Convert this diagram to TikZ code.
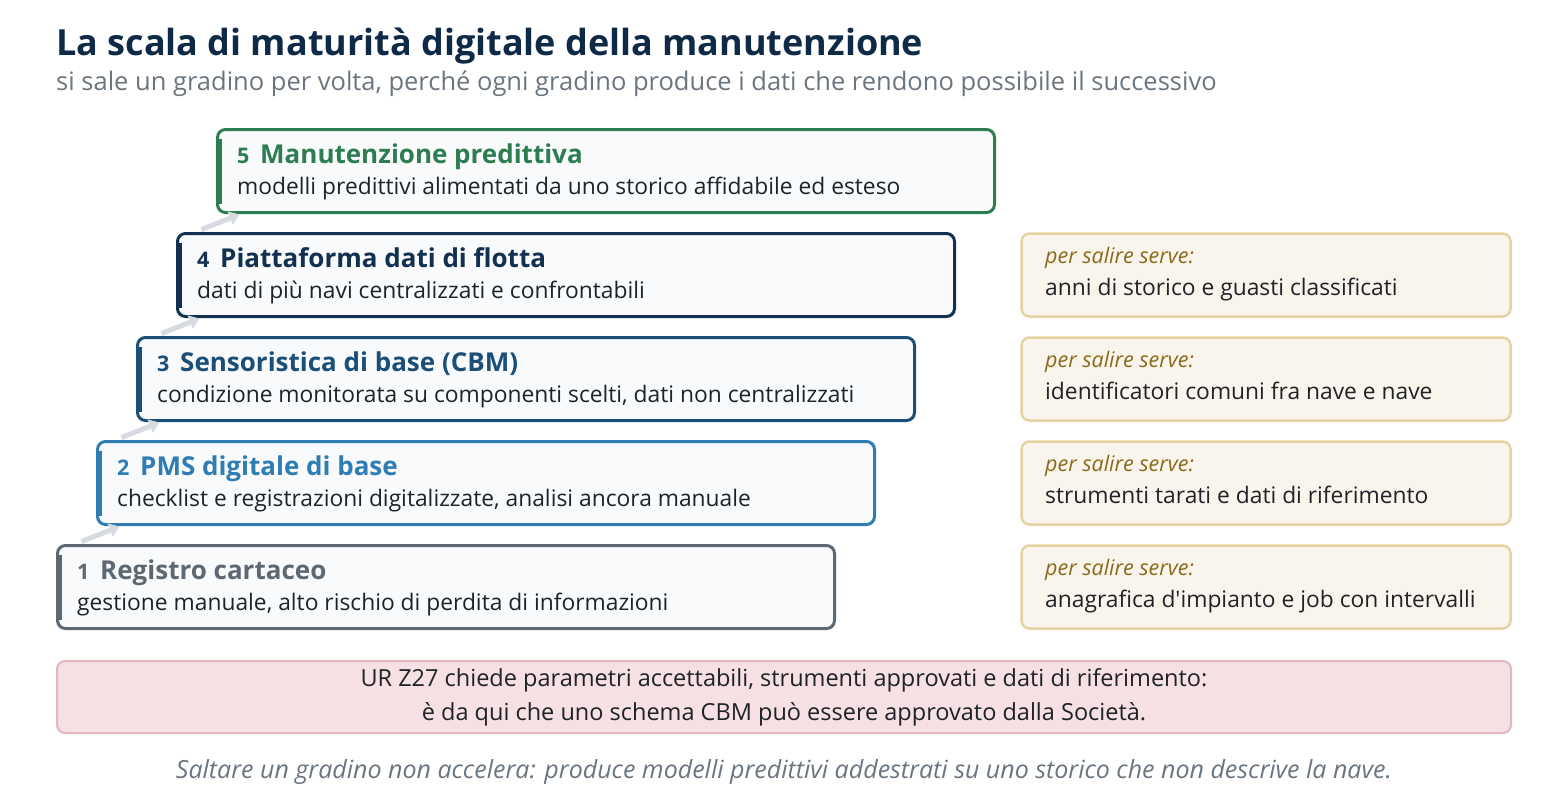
\documentclass[tikz,border=0pt]{standalone}
\usepackage{fontspec}
\setmainfont{Open Sans}
\usetikzlibrary{arrows.meta,calc,positioning}
\definecolor{navy}{HTML}{0F2A47}
\definecolor{mute}{HTML}{6B7580}
\definecolor{ink}{HTML}{1F2328}
\definecolor{boxfill}{HTML}{F8FAFC}
\definecolor{cone}{HTML}{5D6873}
\definecolor{ctwo}{HTML}{2F7DB2}
\definecolor{cthree}{HTML}{1B4F78}
\definecolor{cfour}{HTML}{12304F}
\definecolor{cfive}{HTML}{2E7D50}
\definecolor{needfill}{HTML}{FAF5EC}
\definecolor{needline}{HTML}{E6D2A0}
\definecolor{needtxt}{HTML}{8A6B1E}
\definecolor{urfill}{HTML}{F6E0E3}
\definecolor{urline}{HTML}{E4B6BF}
\definecolor{arrowgray}{HTML}{D5DBE0}

\begin{document}
\begin{tikzpicture}[x=1pt,y=-1pt,
	stepbox/.style={draw=#1, line width=3pt, rounded corners=8pt, fill=boxfill, minimum width=777pt, minimum height=83pt, outer sep=0pt, inner sep=0pt},
	needbox/.style={draw=needline, line width=2.5pt, rounded corners=8pt, fill=needfill, minimum width=489pt, minimum height=83pt, outer sep=0pt, inner sep=0pt},
	num/.style={anchor=base west, inner sep=0pt, text=#1, font=\fontsize{21.5}{25}\selectfont\bfseries},
	head/.style={anchor=base west, inner sep=0pt, text=#1, font=\fontsize{26}{31}\selectfont\bfseries},
	desc/.style={anchor=base west, inner sep=0pt, text=ink, font=\fontsize{22.8}{27}\selectfont},
	needlbl/.style={anchor=base west, inner sep=0pt, text=needtxt, font=\fontsize{21.5}{25}\selectfont\itshape},
	climb/.style={draw=arrowgray, line width=5pt, -{Triangle[length=10pt,width=14pt]}}]
	\useasboundingbox (0,0) rectangle (1568,800);
	% titolo
	\node[anchor=base west, inner sep=0pt, text=navy, font=\fontsize{36}{42}\selectfont\bfseries] (title) at (56,56) {La scala di maturità digitale della manutenzione};
	\node[anchor=base west, inner sep=0pt, text=mute, font=\fontsize{25.5}{30}\selectfont] (sub) at (56,90) {si sale un gradino per volta, perché ogni gradino produce i dati che rendono possibile il successivo};
	% gradini
	\node[stepbox=cfive] (s5) at (606,171) {};
	\node[stepbox=cfour] (s4) at (566,275) {};
	\node[stepbox=cthree] (s3) at (526,379) {};
	\node[stepbox=ctwo] (s2) at (486,483) {};
	\node[stepbox=cone] (s1) at (446,587) {};
	\draw[line width=5pt, cfive] ($(s5.north west)+(1.5,9)$) -- ($(s5.south west)+(1.5,-9)$);
	\draw[line width=5pt, cfour] ($(s4.north west)+(1.5,9)$) -- ($(s4.south west)+(1.5,-9)$);
	\draw[line width=5pt, cthree] ($(s3.north west)+(1.5,9)$) -- ($(s3.south west)+(1.5,-9)$);
	\draw[line width=5pt, ctwo] ($(s2.north west)+(1.5,9)$) -- ($(s2.south west)+(1.5,-9)$);
	\draw[line width=5pt, cone] ($(s1.north west)+(1.5,9)$) -- ($(s1.south west)+(1.5,-9)$);
	\node[num=cfive] (n5) at ($(s5.north west)+(19.5,33.5)$) {5};
	\node[head=cfive] (h5) at ($(s5.north west)+(42.5,33.5)$) {Manutenzione predittiva};
	\node[desc] (d5) at ($(s5.north west)+(19.5,64.5)$) {modelli predittivi alimentati da uno storico affidabile ed esteso};
	\node[num=cfour] (n4) at ($(s4.north west)+(19.5,33.5)$) {4};
	\node[head=cfour] (h4) at ($(s4.north west)+(42.5,33.5)$) {Piattaforma dati di flotta};
	\node[desc] (d4) at ($(s4.north west)+(19.5,64.5)$) {dati di più navi centralizzati e confrontabili};
	\node[num=cthree] (n3) at ($(s3.north west)+(19.5,33.5)$) {3};
	\node[head=cthree] (h3) at ($(s3.north west)+(42.5,33.5)$) {Sensoristica di base (CBM)};
	\node[desc] (d3) at ($(s3.north west)+(19.5,64.5)$) {condizione monitorata su componenti scelti, dati non centralizzati};
	\node[num=ctwo] (n2) at ($(s2.north west)+(19.5,33.5)$) {2};
	\node[head=ctwo] (h2) at ($(s2.north west)+(42.5,33.5)$) {PMS digitale di base};
	\node[desc] (d2) at ($(s2.north west)+(19.5,64.5)$) {checklist e registrazioni digitalizzate, analisi ancora manuale};
	\node[num=cone] (n1) at ($(s1.north west)+(19.5,33.5)$) {1};
	\node[head=cone] (h1) at ($(s1.north west)+(42.5,33.5)$) {Registro cartaceo};
	\node[desc] (d1) at ($(s1.north west)+(19.5,64.5)$) {gestione manuale, alto rischio di perdita di informazioni};
	\foreach \a/\b in {s1/s2,s2/s3,s3/s4,s4/s5}
		\draw[climb] ($(\a.north west)+(24,-4)$) -- ($(\b.south west)+(22,2)$);
	% requisiti per salire
	\node[needbox] (r4) at (1266,275) {};
	\node[needbox] (r3) at (1266,379) {};
	\node[needbox] (r2) at (1266,483) {};
	\node[needbox] (r1) at (1266,587) {};
	\node[needlbl] (l4) at ($(r4.north west)+(23.5,29.5)$) {per salire serve:};
	\node[desc] (t4) at ($(r4.north west)+(23.5,61.5)$) {anni di storico e guasti classificati};
	\node[needlbl] (l3) at ($(r3.north west)+(23.5,29.5)$) {per salire serve:};
	\node[desc] (t3) at ($(r3.north west)+(23.5,61.5)$) {identificatori comuni fra nave e nave};
	\node[needlbl] (l2) at ($(r2.north west)+(23.5,29.5)$) {per salire serve:};
	\node[desc] (t2) at ($(r2.north west)+(23.5,61.5)$) {strumenti tarati e dati di riferimento};
	\node[needlbl] (l1) at ($(r1.north west)+(23.5,29.5)$) {per salire serve:};
	\node[desc] (t1) at ($(r1.north west)+(23.5,61.5)$) {anagrafica d\textquotesingle impianto e job con intervalli};
	% UR Z27
	\node[draw=urline, fill=urfill, line width=2pt, rounded corners=8pt, minimum width=1454pt, minimum height=72pt, outer sep=0pt, align=center, text=ink, font=\fontsize{23.5}{34}\selectfont] (ur) at (784,697) {UR Z27 chiede parametri accettabili, strumenti approvati e dati di riferimento:\\è da qui che uno schema CBM può essere approvato dalla Società.};
	\node[anchor=base, inner sep=0pt, text=mute, font=\fontsize{25}{29}\selectfont\itshape] (note) at (784,778) {Saltare un gradino non accelera: produce modelli predittivi addestrati su uno storico che non descrive la nave.};
\end{tikzpicture}
\end{document}
